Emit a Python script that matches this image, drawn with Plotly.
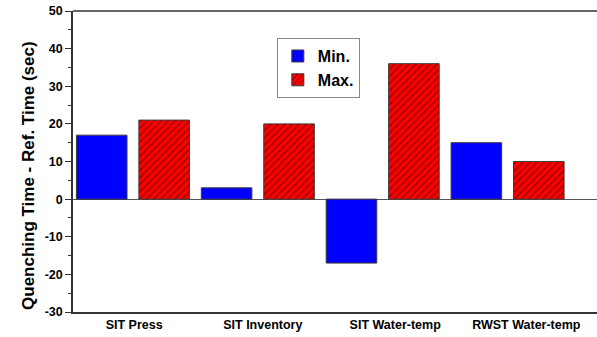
import plotly.graph_objects as go

# Data
categories = ["SIT Press", "SIT Inventory", "SIT Water-temp", "RWST Water-temp"]
min_values = [17, 3, -17, 15]
max_values = [21, 20, 36, 10]
y_ticks = [-30, -20, -10, 0, 10, 20, 30, 40, 50]
y_tick_labels = ["-30", "-20", "-10", "0", "10", "20", "30", "40", "50"]
y_title = "Quenching Time - Ref. Time (sec)"

x_pos = list(range(1, len(categories) + 1))
# category labels sit slightly right of the bar groups
label_pos = [1.01, 2.04, 3.10, 4.15]

font_family = "Arial, Liberation Sans, sans-serif"
outline = dict(color="#3a3a3a", width=1)
frame_color = "#333333"

fig = go.Figure()
fig.add_trace(go.Bar(
    x=x_pos, y=min_values, name="Min.",
    marker=dict(color="#0000ff", line=outline),
))
fig.add_trace(go.Bar(
    x=x_pos, y=max_values, name="Max.",
    marker=dict(
        color="#ff0000", line=outline,
        pattern=dict(shape="/", fgcolor="#3a0000", bgcolor="#ff0000",
                     size=5, solidity=0.3, fillmode="overlay"),
    ),
))

fig.update_layout(
    width=597, height=337,
    margin=dict(l=73, r=0, t=11, b=25, autoexpand=False),
    paper_bgcolor="white", plot_bgcolor="white",
    barmode="group", bargap=0.0, bargroupgap=0.19,
    font=dict(family=font_family, color="black"),
    showlegend=True,
    legend=dict(
        x=0.389, y=0.91, xanchor="left", yanchor="top",
        bgcolor="white", bordercolor="#888888", borderwidth=1,
        font=dict(size=16, family=font_family, weight="bold"),
        tracegroupgap=0, itemwidth=30,
    ),
)

# top frame line (open on the right side)
fig.add_shape(
    type="line", xref="paper", yref="paper", x0=0, x1=1, y0=1, y1=1,
    line=dict(color=frame_color, width=1.5), layer="above",
)

# vertical axis title, placed a little below the axis midpoint
fig.add_annotation(
    text=y_title, textangle=-90, showarrow=False,
    xref="paper", yref="paper", x=-0.086, y=0.455,
    xanchor="center", yanchor="middle",
    font=dict(size=17, family=font_family, weight="bold", color="black"),
)

fig.update_xaxes(
    range=[0.52, 4.716],
    tickmode="array", tickvals=label_pos, ticktext=categories,
    tickfont=dict(size=12.5, family=font_family, weight="bold"),
    ticks="", showgrid=False, zeroline=False, automargin=False,
    showline=True, linecolor=frame_color, linewidth=1.5, mirror=False,
)

fig.update_yaxes(
    range=[-30, 50],
    tickmode="array", tickvals=y_ticks, ticktext=y_tick_labels,
    tickfont=dict(size=12.5, family=font_family, weight="bold"),
    ticks="outside", ticklen=6, tickwidth=1.2, tickcolor=frame_color,
    minor=dict(ticks="outside", ticklen=3, dtick=5, tickcolor=frame_color, tickwidth=1),
    showgrid=False, automargin=False,
    zeroline=True, zerolinecolor="#555555", zerolinewidth=1.2,
    showline=True, linecolor=frame_color, linewidth=1.5, mirror=False,
)

fig.write_html("out.html")
